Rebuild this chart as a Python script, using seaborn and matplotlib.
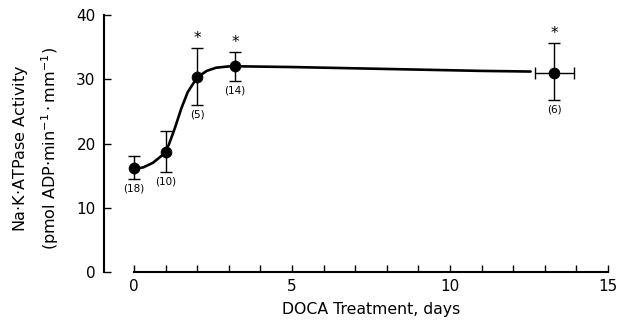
import matplotlib
matplotlib.use("Agg")
import matplotlib.pyplot as plt
import seaborn as sns
import pandas as pd
import numpy as np

# Data points
days = [0.0, 1.0, 2.0, 3.2, 13.3]
activity = [16.2, 18.6, 30.3, 32.0, 31.0]
err_low = [14.5, 15.5, 26.0, 29.7, 26.8]
err_high = [18.0, 22.0, 34.8, 34.3, 35.7]
n_labels = ["(18)", "(10)", "(5)", "(14)", "(6)"]
significant = [False, False, True, True, True]
xerr_last = 0.62

# Hand-drawn fitted curve
curve_x = [0.0, 0.3, 0.6, 0.9, 1.1, 1.3, 1.5, 1.7, 2.0, 2.3, 2.6, 3.0, 3.5, 5.0, 7.0, 9.0, 11.0, 12.55]
curve_y = [16.0, 16.3, 17.0, 18.2, 19.8, 22.5, 25.5, 28.0, 30.3, 31.3, 31.8, 32.0, 32.0, 31.9, 31.7, 31.5, 31.3, 31.2]

sns.set_theme(style="ticks", rc={"text.color": "black", "axes.labelcolor": "black",
                                 "xtick.color": "black", "ytick.color": "black",
                                 "axes.edgecolor": "black"})
plt.rcParams['font.family'] = ['DejaVu Sans']

fig = plt.figure(figsize=(6.25, 3.21), dpi=100)
ax = fig.add_axes([104/625, 1-272/321, (608-104)/625, (272-15)/321])

curve = pd.DataFrame({"x": curve_x, "y": curve_y})
sns.lineplot(data=curve, x="x", y="y", ax=ax, color="black", lw=1.9, sort=False)

pts = pd.DataFrame({"x": days, "y": activity})
yerr = np.array([np.array(activity) - np.array(err_low), np.array(err_high) - np.array(activity)])
xerr = np.zeros((2, len(days)))
xerr[:, -1] = xerr_last
ax.errorbar(days, activity, yerr=yerr, xerr=xerr, fmt="none", ecolor="black",
            elinewidth=1.0, capsize=4, capthick=1.0, zorder=3)
sns.scatterplot(data=pts, x="x", y="y", ax=ax, color="black", s=60, edgecolor="black", zorder=4)

for x, lo, hi, lab, sig in zip(days, err_low, err_high, n_labels, significant):
    ax.text(x, lo - 0.7, lab, ha="center", va="top", fontsize=7.5)
    if sig:
        ax.text(x, hi + 0.3, "*", ha="center", va="bottom", fontsize=11)

ax.set_xlim(-0.95, 15)
ax.set_ylim(0, 40)
ax.set_xticks([0, 5, 10, 15])
ax.set_xticks(range(0, 16), minor=True)
ax.set_yticks([0, 10, 20, 30, 40])
ax.tick_params(axis="both", which="both", direction="in", length=5, width=1.0,
               labelsize=11, color="black", labelcolor="black")
ax.tick_params(axis="x", pad=5)
ax.tick_params(axis="y", pad=6)
sns.despine(ax=ax)
ax.spines["bottom"].set_bounds(0, 15)
ax.spines["left"].set_linewidth(1.5)
ax.spines["bottom"].set_linewidth(1.5)

ax.set_xlabel("DOCA Treatment, days", fontsize=11.3)
ax.set_ylabel("Na$\\cdot$K$\\cdot$ATPase Activity\n(pmol ADP$\\cdot$min$^{-1}\\cdot$mm$^{-1}$)",
              fontsize=11.5, linespacing=1.55)
ax.xaxis.set_label_coords(0.53, -0.117)
ax.yaxis.set_label_coords(-0.085, 0.482)

fig.savefig("out.png", dpi=100)
